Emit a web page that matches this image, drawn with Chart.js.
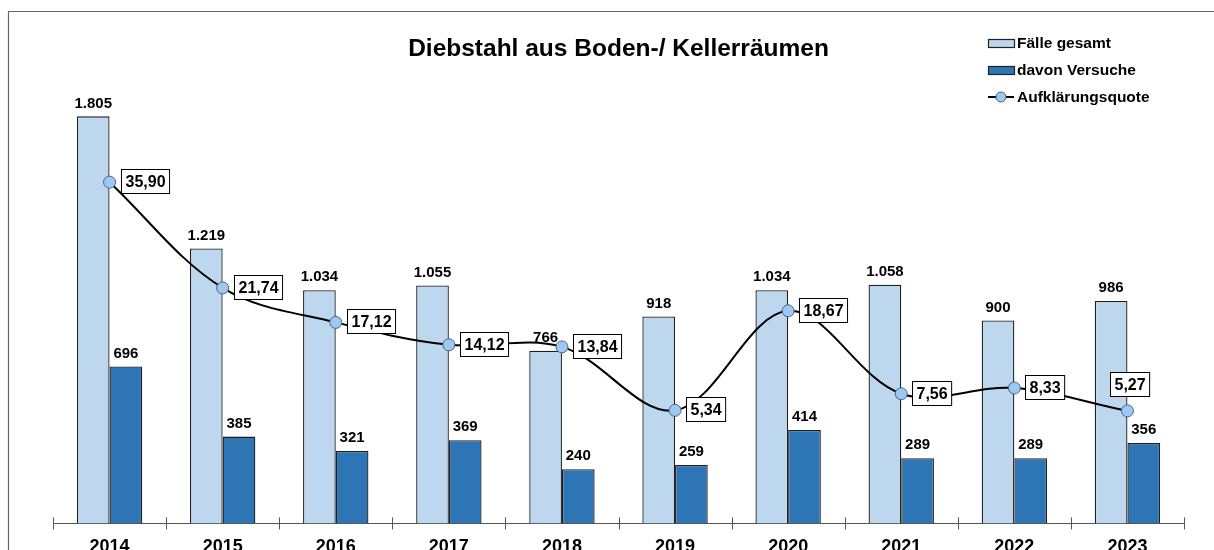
<!DOCTYPE html>
<html lang="de">
<head>
<meta charset="utf-8">
<title>Diebstahl aus Boden-/ Kellerräumen</title>
<script src="https://cdn.jsdelivr.net/npm/chart.js@4.4.1/dist/chart.umd.min.js"></script>
<style>
    html, body { margin: 0; padding: 0; background: #fff; overflow: hidden; }
    #wrap { position: relative; width: 1214px; height: 550px; overflow: hidden; }
    #chart { position: absolute; left: 0; top: 0; }
</style>
</head>
<body>
<div id="wrap">
    <canvas id="chart" width="1214" height="576"></canvas>
</div>
<script>
const years = ['2014', '2015', '2016', '2017', '2018', '2019', '2020', '2021', '2022', '2023'];
const faelleGesamt = [1805, 1219, 1034, 1055, 766, 918, 1034, 1058, 900, 986];
const davonVersuche = [696, 385, 321, 369, 240, 259, 414, 289, 289, 356];
const aufklaerungsquote = [35.90, 21.74, 17.12, 14.12, 13.84, 5.34, 18.67, 7.56, 8.33, 5.27];

const FONT = "'Liberation Sans', Arial, sans-serif";
const LIGHT = '#bdd7ee';
const DARK = '#2e75b6';
const POINT = '#9dc8f3';

function formatThousands(n) {
    return String(n).replace(/\B(?=(\d{3})+(?!\d))/g, '.');
}

function formatDecimal(n) {
    return n.toFixed(2).replace('.', ',');
}

// gray frame, only top and left visible in the picture
const framePlugin = {
    id: 'frame',
    beforeDraw(chart) {
        const ctx = chart.ctx;
        ctx.save();
        ctx.strokeStyle = '#666';
        ctx.lineWidth = 1.2;
        ctx.beginPath();
        ctx.moveTo(8.5, 576);
        ctx.lineTo(8.5, 11.5);
        ctx.lineTo(1214, 11.5);
        ctx.stroke();
        ctx.restore();
    }
};

// tick marks crossing the category axis
const tickPlugin = {
    id: 'crossTicks',
    afterDraw(chart) {
        const xs = chart.scales.x;
        const ctx = chart.ctx;
        const step = xs.width / years.length;
        ctx.save();
        ctx.strokeStyle = '#555';
        ctx.lineWidth = 1;
        ctx.beginPath();
        for (let i = 0; i <= years.length; i++) {
            const x = Math.round(xs.left + i * step) + 0.5;
            ctx.moveTo(x, xs.top - 6);
            ctx.lineTo(x, xs.top + 6);
        }
        ctx.stroke();
        ctx.restore();
    }
};

const labelPlugin = {
    id: 'valueLabels',
    afterDatasetsDraw(chart) {
        const ctx = chart.ctx;
        ctx.save();
        ctx.fillStyle = '#000';
        ctx.textAlign = 'center';
        ctx.textBaseline = 'middle';
        ctx.font = 'bold 15px ' + FONT;

        // bar labels
        [1, 2].forEach(dsIndex => {
            const meta = chart.getDatasetMeta(dsIndex);
            const values = chart.data.datasets[dsIndex].data;
            meta.data.forEach((bar, i) => {
                ctx.fillText(formatThousands(values[i]), bar.x, bar.y - 13);
            });
        });

        // boxed line labels
        const lineMeta = chart.getDatasetMeta(0);
        ctx.font = 'bold 16px ' + FONT;
        lineMeta.data.forEach((pt, i) => {
            const text = formatDecimal(aufklaerungsquote[i]);
            const w = ctx.measureText(text).width + 8;
            const h = 24;
            let bx, by;
            if (i === years.length - 1) {
                bx = pt.x - w / 2 + 2;
                by = pt.y - 15 - h;
            } else {
                bx = pt.x + 11;
                by = pt.y - h / 2 - 1;
            }
            bx = Math.round(bx) + 0.5;
            by = Math.round(by) + 0.5;
            ctx.fillStyle = '#fff';
            ctx.fillRect(bx, by, w, h);
            ctx.strokeStyle = '#000';
            ctx.lineWidth = 1;
            ctx.strokeRect(bx, by, w, h);
            ctx.fillStyle = '#000';
            ctx.textAlign = 'left';
            ctx.fillText(text, bx + 4, by + h / 2 + 1);
        });
        ctx.restore();
    }
};

// legend drawn as a vertical list in the upper right
const legendPlugin = {
    id: 'sideLegend',
    afterDraw(chart) {
        const ctx = chart.ctx;
        const x0 = 988, x1 = 1014, textX = 1017;
        const rows = [43, 70, 97];
        ctx.save();
        ctx.font = 'bold 15.5px ' + FONT;
        ctx.textAlign = 'left';
        ctx.textBaseline = 'middle';
        const order = [1, 2, 0];
        order.forEach((dsIndex, r) => {
            const ds = chart.data.datasets[dsIndex];
            const y = rows[r];
            if (ds.type === 'line') {
                ctx.strokeStyle = '#000';
                ctx.lineWidth = 2;
                ctx.beginPath();
                ctx.moveTo(x0, y);
                ctx.lineTo(x1, y);
                ctx.stroke();
                ctx.beginPath();
                ctx.arc((x0 + x1) / 2, y, 5, 0, Math.PI * 2);
                ctx.fillStyle = POINT;
                ctx.fill();
                ctx.lineWidth = 1;
                ctx.strokeStyle = '#4d6480';
                ctx.stroke();
            } else {
                ctx.fillStyle = ds.backgroundColor;
                ctx.fillRect(x0 + 0.5, y - 3.5, x1 - x0, 8);
                ctx.strokeStyle = '#222';
                ctx.lineWidth = 1.2;
                ctx.strokeRect(x0 + 0.5, y - 3.5, x1 - x0, 8);
            }
            ctx.fillStyle = '#000';
            ctx.fillText(ds.label, textX, y + 1);
        });
        ctx.restore();
    }
};

const ctx = document.getElementById('chart').getContext('2d');

new Chart(ctx, {
    type: 'bar',
    data: {
        labels: years,
        datasets: [
            {
                type: 'line',
                label: 'Aufklärungsquote',
                data: aufklaerungsquote,
                yAxisID: 'y1',
                order: 0,
                borderColor: '#000',
                borderWidth: 2,
                tension: 0.35,
                pointRadius: 6,
                pointBackgroundColor: POINT,
                pointBorderColor: '#4d6480',
                pointBorderWidth: 1
            },
            {
                label: 'Fälle gesamt',
                data: faelleGesamt,
                yAxisID: 'y',
                order: 1,
                backgroundColor: LIGHT,
                borderColor: '#1e1e1e',
                borderWidth: 1.3,
                categoryPercentage: 0.578,
                barPercentage: 1
            },
            {
                label: 'davon Versuche',
                data: davonVersuche,
                yAxisID: 'y',
                order: 1,
                backgroundColor: DARK,
                borderColor: '#1e1e1e',
                borderWidth: 1.3,
                categoryPercentage: 0.578,
                barPercentage: 1
            }
        ]
    },
    options: {
        responsive: false,
        animation: false,
        layout: {
            padding: { left: 53, right: 30, top: 0, bottom: 5 }
        },
        plugins: {
            legend: { display: false },
            tooltip: { enabled: false },
            title: {
                display: true,
                text: 'Diebstahl aus Boden-/ Kellerräumen',
                color: '#000',
                font: { family: FONT, size: 24.5, weight: 'bold' },
                padding: { top: 35, bottom: 8 }
            }
        },
        scales: {
            x: {
                grid: { display: false, drawTicks: false },
                border: { display: true, color: '#555', width: 1 },
                ticks: {
                    color: '#000',
                    padding: 13,
                    font: { family: FONT, size: 18, weight: 'bold' }
                }
            },
            y: {
                display: false,
                min: 0,
                max: 2000
            },
            y1: {
                display: false,
                min: -9.8,
                max: 50.6
            }
        }
    },
    plugins: [framePlugin, tickPlugin, labelPlugin, legendPlugin]
});
</script>
</body>
</html>
